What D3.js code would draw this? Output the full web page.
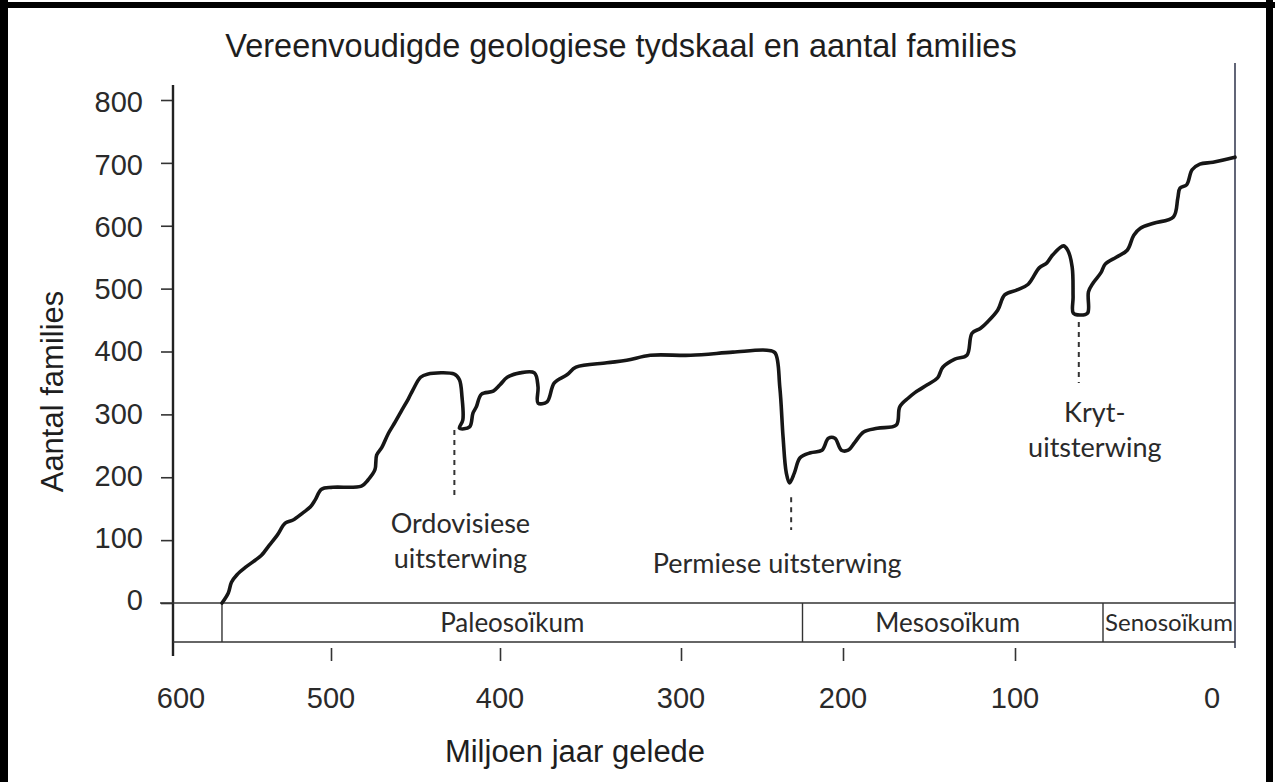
<!DOCTYPE html>
<html>
<head>
<meta charset="utf-8">
<script src="https://cdn.jsdelivr.net/npm/d3@7"></script>
<style>
  html, body { margin: 0; padding: 0; background: #fff; }
  svg { display: block; }
</style>
</head>
<body>
<div id="chart"></div>
<script>
// Number of families through time
const ages = [
  569, 565, 563, 559.5, 554, 548, 544, 539, 534, 529, 524, 518, 513, 510, 506,
  499, 482, 478, 474, 473, 470, 466, 462, 458, 454, 451.5, 447, 443, 427, 424,
  422.5, 422, 424, 418, 416, 414, 411, 404, 400, 396, 389, 381, 379, 379, 374,
  370, 363, 358, 341, 330, 317, 294, 268, 247, 242, 239, 237, 235, 233, 230,
  226.5, 220, 213, 209, 205, 201, 197, 193, 188, 180, 169, 167, 162, 158, 151,
  145, 142, 135, 128, 125, 120, 116, 110, 106, 99, 94, 89, 85.5, 83, 78,
  76, 74, 73.6, 73.5, 70.5, 67, 66.6, 64.5, 61, 59, 54, 49, 46, 43, 37,
  28, 26, 25, 22, 19.5, 16, 10, 1, 0
];
const families = [
  0, 16, 33, 45, 57, 68, 76, 92, 108, 127, 132, 143, 153, 164, 181,
  184, 186, 196, 212, 235, 247, 270, 288, 307, 326, 339, 359, 364, 364, 355,
  328, 291, 278, 280, 302, 312, 332, 337, 347, 359, 366, 366, 344, 318, 320,
  350, 363, 375, 382, 386, 394, 394, 399, 402, 398, 343, 264, 207, 191, 207,
  231, 239, 243, 262, 262, 243, 243, 256, 272, 278, 283, 312, 326, 335, 347,
  358, 375, 388, 394, 429, 437, 447, 466, 490, 498, 507, 533, 541, 553, 568,
  561, 534, 487, 461, 458, 461, 495, 509, 525, 539, 550, 561, 585, 596, 604,
  614, 644, 660, 665, 689, 698, 701, 708, 709
];

// Eras in the time band
const eraNames = ['Paleosoïkum', 'Mesosoïkum', 'Senosoïkum'];
const eraStart = [569, 225, 60];
const eraEnd = [225, 60, 0];

// Axis ticks
const xTickValues = [600, 500, 400, 300, 200, 100, 0];
const yTickValues = [0, 100, 200, 300, 400, 500, 600, 700, 800];

// Mass extinctions (dashed markers)
const extinctionLabels = [['Ordovisiese', 'uitsterwing'], ['Permiese uitsterwing'], ['Kryt-', 'uitsterwing']];
const extinctionAge = [427, 232, 71];
const extinctionTop = [275, 168, 447];
const extinctionBottom = [167, 116, 350];

// layout
const W = 1275, H = 782;
const bandH = 39;
const labelShift = [{ dx: 6, dy: 35 }, { dx: -14, dy: 43 }, { dx: 16, dy: 39 }];

const svg = d3.select('#chart')
  .append('svg')
  .attr('width', W)
  .attr('height', H);

svg.append('rect').attr('width', W).attr('height', H).attr('fill', '#fff');

// the original axis is hand drawn and not evenly spaced, so a piecewise scale
const x = d3.scaleLinear()
  .domain(xTickValues)
  .range([173, 331, 500, 681, 843, 1015, 1235]);

const y = d3.scaleLinear()
  .domain([0, 800])
  .range([603, 100]);

const sans = "'Liberation Sans', Arial, sans-serif";
const humanist = "Lato, 'Open Sans', sans-serif";

// page frame
svg.append('rect').attr('x', 0).attr('y', 0).attr('width', 8).attr('height', H).attr('fill', '#000');
svg.append('rect').attr('x', 0).attr('y', 2).attr('width', W).attr('height', 6).attr('fill', '#000');
svg.append('rect').attr('x', 1266).attr('y', 0).attr('width', 7).attr('height', H).attr('fill', '#000');

// title
svg.append('text')
  .attr('x', 621)
  .attr('y', 57)
  .attr('text-anchor', 'middle')
  .attr('font-family', sans)
  .attr('font-size', '32.5px')
  .attr('fill', '#1e1e1e')
  .text('Vereenvoudigde geologiese tydskaal en aantal families');

// y axis
const yAxis = svg.append('g')
  .attr('transform', `translate(${x(600)},0)`)
  .call(d3.axisLeft(y).tickValues(yTickValues).tickSize(12).tickPadding(18));
yAxis.select('.domain').remove();
yAxis.selectAll('.tick line').attr('stroke', '#333').attr('stroke-width', 1.6);
yAxis.selectAll('.tick text')
  .attr('font-family', sans)
  .attr('font-size', '29px')
  .attr('fill', '#2a2a2a')
  .attr('dy', d => `${0.32 - (400 - d) * 0.00022}em`);

svg.append('line')
  .attr('x1', x(600)).attr('x2', x(600))
  .attr('y1', y(800) - 15).attr('y2', y(0) + bandH + 14)
  .attr('stroke', '#222')
  .attr('stroke-width', 2.4);

svg.append('text')
  .attr('transform', `translate(63,${(y(0) + y(800)) / 2 + 40}) rotate(-90)`)
  .attr('text-anchor', 'middle')
  .attr('font-family', sans)
  .attr('font-size', '31px')
  .attr('fill', '#1e1e1e')
  .text('Aantal families');

// right edge line
svg.append('line')
  .attr('x1', x(0)).attr('x2', x(0))
  .attr('y1', 63).attr('y2', y(0) + bandH + 6)
  .attr('stroke', '#3a3f55')
  .attr('stroke-width', 1.6);

// era band
const band = svg.append('g').attr('transform', `translate(0,${y(0)})`);
band.append('line')
  .attr('x1', x(600) - 13).attr('x2', x(0))
  .attr('y1', 0).attr('y2', 0)
  .attr('stroke', '#333').attr('stroke-width', 1.6);
band.append('line')
  .attr('x1', x(600)).attr('x2', x(0))
  .attr('y1', bandH).attr('y2', bandH)
  .attr('stroke', '#333').attr('stroke-width', 1.6);

band.selectAll('.era-div')
  .data(eraStart)
  .join('line')
  .attr('class', 'era-div')
  .attr('x1', d => x(d)).attr('x2', d => x(d))
  .attr('y1', 0).attr('y2', bandH)
  .attr('stroke', '#333').attr('stroke-width', 1.4);

band.selectAll('.era-label')
  .data(eraNames)
  .join('text')
  .attr('class', 'era-label')
  .attr('x', (d, i) => (x(eraStart[i]) + x(eraEnd[i])) / 2 - (i === 1 ? 5 : 0))
  .attr('y', bandH / 2)
  .attr('dy', '0.36em')
  .attr('text-anchor', 'middle')
  .attr('font-family', humanist)
  .attr('font-size', (d, i) => (i === 2 ? '24px' : '26px'))
  .attr('fill', '#2a2a2a')
  .text(d => d);

// x axis ticks (only inner ones have marks)
const xAxis = svg.append('g')
  .attr('transform', `translate(0,${y(0) + bandH + 6})`)
  .call(d3.axisBottom(x).tickValues(xTickValues.slice(1, -1)).tickSize(13).tickFormat(''));
xAxis.select('.domain').remove();
xAxis.selectAll('.tick line').attr('stroke', '#333').attr('stroke-width', 1.6);

svg.selectAll('.x-label')
  .data(xTickValues)
  .join('text')
  .attr('class', 'x-label')
  .attr('x', d => (d === 600 ? x(d) + 8 : d === 0 ? x(d) - 23 : x(d)))
  .attr('y', 708)
  .attr('text-anchor', 'middle')
  .attr('font-family', sans)
  .attr('font-size', '29px')
  .attr('fill', '#2a2a2a')
  .text(d => d);

svg.append('text')
  .attr('x', 575)
  .attr('y', 762)
  .attr('text-anchor', 'middle')
  .attr('font-family', sans)
  .attr('font-size', '31px')
  .attr('fill', '#1e1e1e')
  .text('Miljoen jaar gelede');

// curve
const points = ages.map((a, i) => [a, families[i]]);
const line = d3.line()
  .x(d => x(d[0]))
  .y(d => y(d[1]))
  .curve(d3.curveCatmullRom.alpha(0.5));

svg.append('path')
  .datum(points)
  .attr('d', line)
  .attr('fill', 'none')
  .attr('stroke', '#161616')
  .attr('stroke-width', 3.6)
  .attr('stroke-linejoin', 'round')
  .attr('stroke-linecap', 'round');

// extinction markers
const ext = svg.selectAll('.ext')
  .data(extinctionLabels)
  .join('g')
  .attr('class', 'ext');

ext.append('line')
  .attr('x1', (d, i) => x(extinctionAge[i]))
  .attr('x2', (d, i) => x(extinctionAge[i]))
  .attr('y1', (d, i) => y(extinctionTop[i]))
  .attr('y2', (d, i) => y(extinctionBottom[i]))
  .attr('stroke', '#333')
  .attr('stroke-width', 2)
  .attr('stroke-dasharray', '5,5');

ext.each(function (lines, i) {
  const cx = x(extinctionAge[i]) + labelShift[i].dx;
  const by = y(extinctionBottom[i]) + labelShift[i].dy;
  d3.select(this).selectAll('text')
    .data(lines)
    .join('text')
    .attr('x', cx)
    .attr('y', (d, j) => by + j * 35)
    .attr('text-anchor', 'middle')
    .attr('font-family', humanist)
    .attr('font-size', '27px')
    .attr('fill', '#2a2a2a')
    .text(d => d);
});
</script>
</body>
</html>
